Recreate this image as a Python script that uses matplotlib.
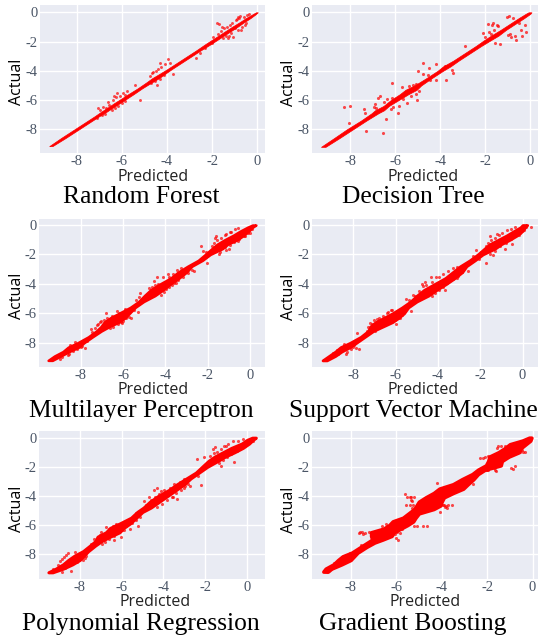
import matplotlib
matplotlib.use('Agg')
import matplotlib.pyplot as plt

W, H = 541, 642

ticks = [-8, -6, -4, -2, 0]
xtick_labels = ['-8', '-6', '-4', '-2', '0']
ytick_values = [0, -2, -4, -6, -8]
ytick_labels = ['0', '-2', '-4', '-6', '-8']

# dense core of the cloud: predicted range at each actual level
rf_actual = [-9.15, -8.6, -8.1, -7.6, -7.1, -6.8, -6.5, -6.2, -5.9, -5.6, -5.2, -4.8, -4.5, -4.2, -3.9, -3.5, -3.0, -2.6, -2.2, -1.9, -1.6, -1.3, -1.0, -0.7, -0.4, -0.15, 0.0]
rf_lo = [-9.22, -8.7, -8.2, -7.7, -7.2, -6.92, -6.62, -6.33, -6.02, -5.72, -5.3, -4.92, -4.65, -4.32, -4.0, -3.6, -3.1, -2.7, -2.32, -2.02, -1.72, -1.42, -1.12, -0.8, -0.5, -0.22, -0.05]
rf_hi = [-9.08, -8.5, -8.0, -7.5, -7.0, -6.68, -6.38, -6.08, -5.78, -5.48, -5.1, -4.68, -4.35, -4.08, -3.8, -3.4, -2.9, -2.5, -2.08, -1.78, -1.48, -1.18, -0.88, -0.6, -0.3, -0.08, 0.03]
rf_stray_pred = [-1.8, -1.7, -1.55, -0.84, -0.9, -1.06, -1.3, -1.95, -2.0, -2.7, -3.94, -3.72, -4.6, -5.2, -5.86, -7.04, -6.82, -5.42, -4.46, -4.3, -6.2, -6.35, -6.95, -1.0, -0.7, -0.55, -4.1, -3.85, -2.3, -2.55, -5.75, -6.6, -1.6, -1.45, -1.35, -1.2, -1.1, -0.95, -0.8, -0.75, -0.6, -0.45, -0.35, -1.5, -1.4, -1.25, -1.15, -0.85, -0.65, -0.5, -1.75, -6.7, -6.55, -6.4, -6.25, -6.1, -5.95, -6.45, -6.3, -6.15, -6.0, -5.85, -4.75, -4.65, -4.5, -4.4, -4.25, -4.7, -4.55, -4.3, -4.15, -6.9, -6.75, -7.1]
rf_stray_actual = [-0.7, -0.8, -1.0, -0.3, -0.45, -1.66, -1.75, -1.66, -2.1, -3.14, -3.2, -4.2, -4.05, -6.0, -5.65, -6.56, -6.45, -4.97, -4.97, -3.5, -5.5, -5.7, -6.7, -1.1, -1.2, -0.9, -3.55, -3.45, -2.45, -2.8, -5.4, -6.15, -1.25, -1.05, -1.0, -0.85, -0.7, -0.5, -0.4, -0.25, -0.3, -0.15, -0.1, -1.75, -1.65, -1.6, -1.4, -1.2, -1.0, -0.75, -1.5, -6.55, -6.35, -6.0, -5.8, -5.7, -5.5, -6.7, -6.55, -6.4, -6.2, -6.05, -4.35, -4.15, -4.0, -3.85, -3.75, -4.8, -4.7, -4.55, -4.3, -7.0, -6.95, -7.25]

dt_actual = [-9.2, -8.6, -8.0, -7.4, -6.9, -6.7, -6.4, -6.0, -5.6, -5.3, -5.0, -4.5, -4.0, -3.7, -3.3, -2.8, -2.3, -1.9, -1.6, -1.2, -0.8, -0.4, -0.1, 0.0]
dt_lo = [-9.3, -8.72, -8.15, -7.52, -7.05, -6.9, -6.52, -6.2, -5.8, -5.55, -5.15, -4.62, -4.12, -3.88, -3.42, -2.92, -2.42, -2.05, -1.75, -1.32, -0.92, -0.52, -0.2, -0.08]
dt_hi = [-9.1, -8.48, -7.88, -7.28, -6.75, -6.5, -6.28, -5.85, -5.42, -5.05, -4.85, -4.38, -3.88, -3.55, -3.18, -2.68, -2.18, -1.75, -1.42, -1.08, -0.68, -0.28, 0.0, 0.05]
dt_stray_pred = [-8.3, -8.0, -7.4, -7.35, -7.3, -6.55, -6.75, -6.7, -6.4, -6.2, -6.15, -6.1, -5.9, -5.85, -5.5, -5.1, -5.0, -5.05, -4.75, -4.75, -4.55, -4.45, -4.2, -4.2, -3.8, -3.75, -3.5, -3.45, -4.5, -2.9, -2.1, -2.0, -1.9, -1.65, -1.6, -1.55, -1.5, -1.35, -1.05, -0.95, -0.9, -0.85, -0.75, -0.65, -0.4, -0.35, -0.25, -0.2, -6.95, -6.9, -6.15, -8.05, -6.85, -6.5, -6.35, -5.7, -5.65, -5.4, -5.3, -5.2, -5.1, -4.95, -1.85, -1.75, -1.7, -1.45, -1.0, -0.7, -0.5]
dt_stray_actual = [-6.45, -6.4, -6.6, -6.9, -8.1, -8.25, -5.85, -5.75, -7.3, -6.6, -4.8, -6.5, -6.9, -6.4, -6.2, -4.9, -4.0, -6.0, -3.5, -4.2, -4.3, -4.6, -3.55, -4.6, -3.65, -4.65, -3.95, -4.15, -3.8, -2.3, -1.4, -1.7, -0.8, -0.75, -1.2, -2.1, -0.85, -2.2, -0.3, -0.25, -1.5, -1.7, -0.4, -1.9, -1.2, -1.6, -0.85, -1.35, -6.5, -6.3, -5.85, -7.6, -6.55, -6.1, -5.9, -5.1, -5.9, -5.05, -5.75, -5.0, -5.6, -5.4, -1.35, -1.5, -0.9, -0.95, -1.55, -1.6, -0.7]

mlp_actual = [-9.2, -8.9, -8.6, -8.3, -8.0, -7.6, -7.2, -6.9, -6.6, -6.3, -6.0, -5.6, -5.2, -4.8, -4.4, -4.0, -3.6, -3.2, -2.8, -2.4, -2.0, -1.6, -1.3, -1.0, -0.7, -0.4, -0.15, 0.0]
mlp_lo = [-9.55, -9.25, -8.85, -8.6, -8.15, -7.65, -7.27, -7.05, -6.9, -6.6, -6.2, -5.67, -5.27, -5.0, -4.7, -4.25, -3.75, -3.4, -2.95, -2.45, -2.12, -1.8, -1.55, -1.2, -0.8, -0.45, -0.12, 0.12]
mlp_hi = [-9.35, -8.95, -8.55, -8.1, -7.85, -7.45, -7.03, -6.65, -6.2, -5.9, -5.7, -5.43, -5.03, -4.5, -4.1, -3.75, -3.35, -3.0, -2.75, -2.25, -1.88, -1.3, -1.05, -0.6, -0.3, -0.05, 0.12, 0.28]
mlp_stray_pred = [-8.0, -7.8, -7.45, -7.5, -7.1, -7.25, -6.8, -6.6, -6.05, -5.65, -5.3, -5.4, -5.25, -5.2, -4.8, -4.75, -4.55, -4.4, -4.1, -3.9, -3.7, -3.5, -3.0, -2.65, -2.2, -2.2, -2.3, -2.05, -1.65, -1.6, -1.45, -1.2, -1.0, -0.9, -0.55, -0.25, 0.0, -8.55, -8.9,
    -9.3, -9.0, -8.95, -8.6, -8.65, -8.7, -8.35, -8.2, -8.5, -7.95, -8.3, -7.7, -7.35, -7.2, -7.05, -7.0, -6.9, -6.75, -6.55, -6.5, -6.25, -6.1, -6.0, -5.85, -5.7, -5.75, -6.3, -6.2, -5.5, -5.9, -5.25, -5.0, -4.7, -4.65, -4.5, -4.35, -3.85, -3.65, -3.45, -3.25, -4.2, -4.05, -3.95, -3.85, -3.6, -3.4, -3.15, -2.95, -2.75, -2.1, -1.8, -1.7, -1.55, -1.35, -1.15, -0.95, -0.7, -0.55, -1.75, -1.4, -1.15, -0.95, -0.75, -0.5, -0.3, -0.1, -1.2, -1.05, 0.1]
mlp_stray_actual = [-8.3, -8.35, -7.3, -7.1, -6.6, -6.8, -6.0, -7.0, -6.65, -6.35, -5.9, -5.1, -4.9, -4.6, -4.3, -4.65, -3.8, -3.55, -3.55, -3.3, -4.1, -3.95, -2.95, -3.15, -2.3, -1.75, -1.45, -2.55, -0.9, -0.75, -2.0, -0.65, -1.65, -0.45, -1.1, -0.75, -0.55, -8.75, -9.0,
    -9.05, -9.1, -8.75, -8.85, -8.45, -8.6, -8.55, -8.45, -8.15, -8.25, -7.95, -7.85, -7.0, -6.75, -6.5, -6.95, -6.45, -6.3, -6.2, -6.9, -6.7, -6.6, -6.5, -6.3, -6.25, -6.0, -5.85, -6.0, -5.8, -5.7, -5.4, -5.0, -4.45, -4.2, -4.05, -4.0, -3.55, -3.3, -3.05, -2.95, -4.75, -4.55, -4.35, -4.2, -3.95, -3.75, -3.5, -3.25, -3.05, -1.85, -1.4, -1.2, -1.05, -0.85, -0.6, -0.5, -0.3, -0.2, -1.75, -1.85, -1.7, -1.35, -1.15, -0.95, -0.75, -0.55, -1.5, -1.2, -0.25]

svm_actual = [-9.2, -8.9, -8.6, -8.3, -8.0, -7.6, -7.2, -6.9, -6.6, -6.3, -6.0, -5.6, -5.2, -4.8, -4.4, -4.0, -3.6, -3.2, -2.8, -2.4, -2.0, -1.6, -1.3, -1.0, -0.7, -0.4, -0.15, 0.0]
svm_lo = [-9.45, -9.15, -8.85, -8.6, -8.15, -7.65, -7.3, -7.2, -6.95, -6.55, -6.15, -5.7, -5.3, -5.0, -4.65, -4.15, -3.65, -3.3, -2.95, -2.5, -2.12, -1.8, -1.55, -1.15, -0.75, -0.4, -0.1, 0.0]
svm_hi = [-9.25, -8.85, -8.55, -8.15, -7.85, -7.45, -7.05, -6.6, -6.15, -5.85, -5.6, -5.4, -5.0, -4.45, -4.05, -3.6, -3.2, -2.85, -2.65, -2.25, -1.88, -1.3, -1.0, -0.6, -0.25, 0.0, 0.12, 0.22]
svm_stray_pred = [-7.85, -7.75, -7.8, -7.1, -6.95, -6.55, -6.0, -5.8, -5.6, -5.25, -5.35, -5.1, -4.75, -4.6, -4.35, -4.1, -3.9, -3.65, -3.1, -2.6, -2.35, -2.2, -1.95, -1.75, -1.55, -1.2, -0.85, -0.5, -0.15, 0.15, 0.38, -8.35, -2.05, -1.4,
    -9.1, -8.95, -8.7, -8.75, -8.5, -8.3, -8.1, -8.45, -8.0, -7.95, -7.3, -7.35, -7.2, -7.0, -6.9, -6.8, -6.6, -6.4, -6.2, -6.3, -6.05, -5.9, -5.7, -6.35, -6.15, -5.5, -5.2, -4.9, -4.7, -4.55, -4.3, -3.95, -3.75, -3.5, -3.3, -3.1, -4.3, -4.15, -3.95, -3.75, -3.55, -3.3, -3.05, -2.85, -1.75, -1.65, -1.5, -1.3, -1.1, -0.95, -0.75, -0.55, -0.35, -1.55, -1.3, -1.05, -0.8, -0.55, -0.35, -0.1, 0.05]
svm_stray_actual = [-8.35, -8.4, -7.35, -6.75, -7.2, -6.55, -6.7, -6.35, -5.9, -5.85, -5.1, -4.8, -4.0, -3.85, -3.55, -3.5, -3.9, -4.4, -3.6, -3.15, -2.1, -1.7, -1.85, -2.6, -0.75, -0.6, -1.6, -1.3, -0.65, -0.1, -0.15, -8.75, -2.3, -2.05,
    -8.95, -8.7, -8.8, -8.5, -8.4, -8.6, -8.45, -8.1, -8.3, -8.15, -6.9, -7.2, -6.65, -6.45, -6.4, -6.3, -6.15, -5.95, -5.75, -6.65, -6.45, -6.3, -6.1, -5.9, -5.8, -5.0, -4.75, -4.5, -4.15, -4.05, -3.85, -3.55, -3.35, -3.1, -2.95, -2.85, -4.85, -4.6, -4.4, -4.2, -3.95, -3.65, -3.45, -3.2, -1.45, -1.25, -1.05, -0.85, -0.65, -0.55, -0.35, -0.25, -0.15, -1.95, -1.75, -1.45, -1.25, -0.95, -0.75, -0.55, -0.35]

pr_actual = [-9.25, -9.0, -8.7, -8.4, -8.1, -7.8, -7.4, -7.1, -6.8, -6.5, -6.2, -5.9, -5.5, -5.1, -4.8, -4.4, -4.0, -3.6, -3.2, -2.8, -2.4, -2.0, -1.6, -1.3, -1.0, -0.7, -0.4, -0.15, 0.0]
pr_lo = [-9.5, -9.15, -8.8, -8.55, -8.25, -7.85, -7.5, -7.25, -7.15, -6.75, -6.55, -6.1, -5.55, -5.25, -4.95, -4.65, -4.25, -3.75, -3.35, -2.9, -2.45, -2.15, -1.85, -1.55, -1.15, -0.75, -0.25, 0.0, 0.25]
pr_hi = [-9.3, -8.8, -8.35, -8.0, -7.8, -7.6, -7.25, -6.95, -6.55, -6.1, -5.9, -5.6, -5.3, -5.0, -4.6, -4.2, -3.8, -3.4, -3.0, -2.7, -2.3, -1.9, -1.4, -1.05, -0.6, -0.2, 0.1, 0.28, 0.42]
pr_stray_pred = [-8.85, -8.4, -7.85, -7.75, -7.7, -7.45, -7.1, -6.75, -6.35, -6.05, -5.9, -5.6, -5.3, -5.2, -4.95, -4.7, -4.45, -4.3, -4.1, -3.55, -3.35, -3.0, -2.75, -2.2, -2.4, -2.35, -2.05, -1.95, -1.65, -1.55, -1.25, -1.0, -0.6, -0.25, 0.05, -9.3,
    -9.05, -8.95, -8.85, -8.75, -8.7, -8.5, -8.4, -8.15, -8.05, -8.65, -8.55, -8.25, -7.95, -7.3, -7.05, -7.0, -6.95, -6.8, -6.6, -6.4, -6.25, -6.6, -6.35, -6.15, -6.0, -5.8, -5.5, -5.3, -5.1, -4.85, -4.6, -4.4, -4.2, -3.95, -3.7, -3.5, -3.2, -3.0, -4.3, -4.05, -3.85, -3.6, -3.4, -3.15, -2.95, -2.8, -1.75, -1.6, -1.45, -1.25, -1.1, -0.9, -0.65, -0.45, -0.2, -1.35, -1.15, -0.95, -0.75, -0.5, -0.3, -0.05, 0.15, 0.3]
pr_stray_actual = [-9.2, -9.15, -8.4, -8.3, -8.15, -7.3, -6.9, -6.15, -7.05, -6.8, -6.35, -6.3, -5.15, -6.1, -4.35, -4.1, -3.6, -3.45, -3.65, -4.05, -4.2, -3.45, -3.3, -3.25, -1.45, -2.6, -1.35, -2.0, -0.75, -0.65, -1.95, -0.55, -1.65, -0.55, -0.3, -9.0,
    -8.75, -8.5, -8.35, -8.2, -8.95, -8.75, -8.6, -8.55, -8.4, -8.05, -7.95, -7.85, -8.0, -6.95, -6.7, -6.5, -7.3, -7.15, -6.25, -6.05, -5.9, -6.95, -6.75, -6.5, -6.35, -6.1, -5.85, -5.65, -5.45, -4.65, -4.25, -4.05, -3.85, -3.6, -3.45, -3.2, -3.05, -2.85, -4.75, -4.55, -4.3, -4.05, -3.8, -3.6, -3.35, -3.2, -1.25, -1.05, -0.95, -0.8, -0.6, -0.45, -0.25, -0.2, -0.1, -1.75, -1.5, -1.3, -1.1, -0.9, -0.6, -0.45, -0.3, -0.2]

gb_actual = [-9.2, -9.0, -8.7, -8.4, -8.15, -7.9, -7.5, -7.2, -7.0, -6.75, -6.5, -6.25, -6.0, -5.75, -5.5, -5.2, -4.9, -4.65, -4.4, -4.1, -3.8, -3.5, -3.2, -2.85, -2.5, -2.2, -1.9, -1.6, -1.3, -1.0, -0.7, -0.45, -0.2, 0.0]
gb_lo = [-9.2, -9.1, -8.75, -8.55, -8.35, -7.95, -7.55, -7.25, -7.05, -7.1, -7.1, -6.55, -6.3, -6.15, -5.7, -5.45, -5.2, -5.1, -5.0, -4.7, -4.35, -4.1, -3.5, -3.1, -2.65, -2.4, -2.05, -1.95, -1.9, -1.5, -1.2, -1.0, -0.45, -0.15]
gb_hi = [-9.0, -8.85, -8.4, -8.0, -7.85, -7.7, -7.3, -6.95, -6.6, -6.2, -6.1, -5.8, -5.5, -5.25, -5.15, -5.0, -4.35, -4.05, -4.0, -3.9, -3.5, -3.05, -2.85, -2.6, -2.4, -2.1, -1.4, -1.35, -1.05, -0.6, -0.5, -0.3, -0.1, -0.05]
gb_stray_pred = [-8.4, -7.9, -7.55, -7.6, -6.3, -5.75, -5.4, -5.35, -5.7, -5.45, -5.55, -4.8, -4.65, -4.05, -3.85, -3.45, -4.2, -3.05, -2.6, -2.3, -1.95, -1.7, -1.55, -1.2, -0.9, -2.3, -1.95, -2.05, -1.6, -0.45, -0.65, -5.6, -3.9, -3.55,
    -7.65, -7.5, -7.35, -7.2, -6.05, -5.95, -5.85, -7.45, -7.1, -6.0, -5.9, -6.1, -6.0, -6.6, -6.45, -6.3, -5.2, -5.1, -5.3, -5.5, -5.35, -5.2, -3.95, -3.8, -3.7, -5.4, -5.25, -3.75, -5.3, -5.0, -5.1, -2.2, -2.1, -1.2, -1.1, -2.1, -2.0, -0.55, -0.4, -0.95, -0.85, -0.75, -1.5, -1.4, -0.35, -1.65, -1.75, -1.1, -9.05, -8.85, -8.75, -8.45, -8.3, -8.05]
gb_stray_actual = [-8.2, -8.0, -7.35, -6.5, -6.55, -6.3, -4.05, -4.3, -5.8, -5.85, -4.6, -6.1, -6.05, -5.1, -4.75, -3.6, -3.1, -3.35, -3.2, -2.15, -2.2, -2.1, -0.7, -0.6, -1.0, -1.4, -1.25, -2.25, -2.3, -0.85, -1.0, -3.85, -4.65, -4.65,
    -6.55, -6.5, -6.55, -6.5, -6.6, -6.5, -6.55, -6.6, -6.6, -6.9, -7.0, -6.1, -6.15, -6.05, -5.95, -6.05, -6.05, -6.1, -4.35, -4.05, -4.05, -4.1, -4.65, -4.7, -4.6, -4.65, -4.6, -4.85, -4.85, -4.8, -5.05, -1.4, -1.35, -1.0, -0.95, -2.15, -2.2, -1.0, -0.95, -2.1, -2.15, -1.95, -0.6, -0.55, -1.0, -2.2, -1.3, -1.35, -9.2, -9.0, -8.6, -8.35, -8.1, -7.95]

panels = [
    ('Random Forest', rf_actual, rf_lo, rf_hi, rf_stray_pred, rf_stray_actual),
    ('Decision Tree', dt_actual, dt_lo, dt_hi, dt_stray_pred, dt_stray_actual),
    ('Multilayer Perceptron', mlp_actual, mlp_lo, mlp_hi, mlp_stray_pred, mlp_stray_actual),
    ('Support Vector Machine', svm_actual, svm_lo, svm_hi, svm_stray_pred, svm_stray_actual),
    ('Polynomial Regression', pr_actual, pr_lo, pr_hi, pr_stray_pred, pr_stray_actual),
    ('Gradient Boosting', gb_actual, gb_lo, gb_hi, gb_stray_pred, gb_stray_actual),
]

# pixel box of the axes, axis limits, then centres of title / xlabel / ylabel
boxes = [(40, 5, 265, 153), (312, 5, 538, 153), (39, 219, 265, 367), (312, 219, 538, 367), (39, 431, 265, 579), (312, 431, 538, 579)]
xlims = [(-9.63, 0.35), (-9.7, 0.34), (-9.98, 0.71), (-9.95, 0.73), (-9.95, 0.86), (-9.7, 0.24)]
ylims = [(-9.62, 0.5), (-9.62, 0.5), (-9.65, 0.41), (-9.65, 0.41), (-9.71, 0.46), (-9.71, 0.46)]
title_pos = [(141, 197), (413, 197), (141, 411), (413, 411), (141, 624), (413, 624)]
xlabel_pos = [(153, 177), (423, 177), (153, 390), (423, 390), (155, 602), (425, 602)]
ylabel_pos = [(17, 82), (289, 83), (17, 296), (289, 297), (17, 509), (289, 510)]
core_edge = [0.5, 0.5, 1.8, 2.0, 2.2, 2.6]
dot_size = [4.5, 5, 5, 5, 5, 5]

fig = plt.figure(figsize=(W / 100, H / 100), dpi=100)

for i, (name, actual, lo, hi, sp, sa) in enumerate(panels):
    x0, y0, x1, y1 = boxes[i]
    ax = fig.add_axes([x0 / W, 1 - y1 / H, (x1 - x0) / W, (y1 - y0) / H])
    ax.set_facecolor('#e9ebf3')
    ax.fill_betweenx(actual, lo, hi, color='#ff0000', lw=core_edge[i], zorder=3)
    ax.scatter(sp, sa, s=dot_size[i], color='#ff0000', alpha=0.7, linewidths=0, zorder=3)
    ax.set_xlim(xlims[i])
    ax.set_ylim(ylims[i])
    ax.set_xticks(ticks)
    ax.set_xticklabels(xtick_labels)
    ax.set_yticks(ytick_values)
    ax.set_yticklabels(ytick_labels)
    ax.grid(True, color='white', lw=1)
    ax.set_axisbelow(True)
    ax.tick_params(length=0, pad=1.5, labelcolor='#4a5566')
    for lab in ax.get_xticklabels() + ax.get_yticklabels():
        lab.set_family('Liberation Serif')
        lab.set_fontsize(10.5)
    for s in ax.spines.values():
        s.set_visible(False)

    tx, ty = title_pos[i]
    fig.text(tx / W, 1 - ty / H, name, family='Liberation Serif', fontsize=18.4, color='black', ha='center', va='center')
    lx, ly = xlabel_pos[i]
    fig.text(lx / W, 1 - ly / H, 'Predicted', family='Open Sans', fontsize=11.5, color='#222222', ha='center', va='center')
    yx, yy = ylabel_pos[i]
    fig.text(yx / W, 1 - yy / H, 'Actual', family='Open Sans', fontsize=11.5, color='black', ha='center', va='center', rotation=90)

fig.savefig('out.png', dpi=100)
